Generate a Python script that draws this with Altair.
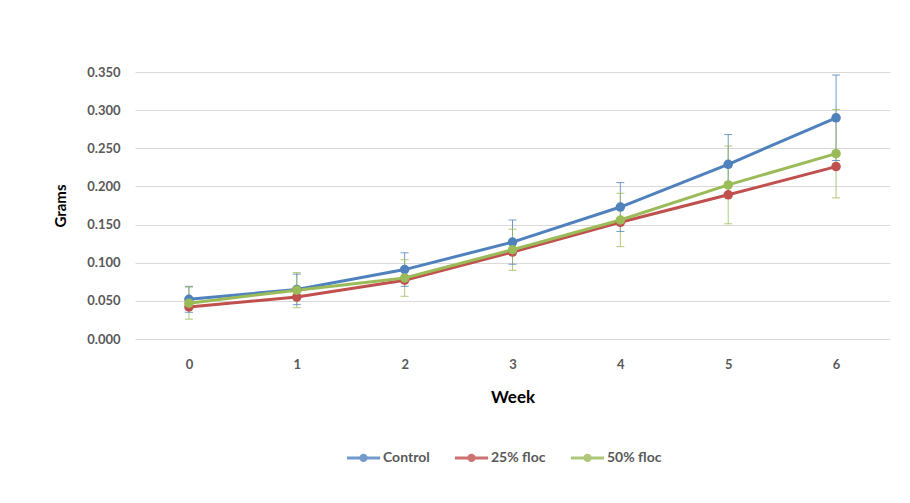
import altair as alt
import pandas as pd

weeks = [0, 1, 2, 3, 4, 5, 6]
series_names = ["Control", "25% floc", "50% floc"]
colors = ["#4F81BD", "#C0504D", "#9BBB59"]

control = [0.052, 0.065, 0.091, 0.127, 0.173, 0.229, 0.290]
control_err = [0.017, 0.020, 0.022, 0.029, 0.032, 0.039, 0.056]
floc25 = [0.042, 0.055, 0.077, 0.114, 0.153, 0.189, 0.226]
floc50 = [0.047, 0.064, 0.080, 0.117, 0.156, 0.202, 0.243]
floc50_err = [0.021, 0.023, 0.024, 0.027, 0.035, 0.051, 0.058]
y_ticks = [0, 0.05, 0.1, 0.15, 0.2, 0.25, 0.3, 0.35]

rows = []
for idx, (name, vals) in enumerate(zip(series_names, [control, floc25, floc50])):
    for w, v in zip(weeks, vals):
        rows.append({"Week": str(w), "Series": name, "Grams": v, "idx": idx})
df = pd.DataFrame(rows)

err_rows = []
for name, vals, errs in [("Control", control, control_err), ("50% floc", floc50, floc50_err)]:
    for w, v, e in zip(weeks, vals, errs):
        err_rows.append({"Week": str(w), "Series": name, "lo": v - e, "hi": v + e})
edf = pd.DataFrame(err_rows)

color_scale = alt.Scale(domain=series_names, range=colors)
x_axis = alt.Axis(labelAngle=0, domain=False, ticks=False, grid=False,
                  labelPadding=19, titlePadding=18,
                  labelFont="Lato", labelFontSize=13, labelFontWeight="bold",
                  labelColor="#595959", titleFont="Lato", titleFontSize=17,
                  titleFontWeight="bold", titleColor="#000000")
x_scale = alt.Scale(type="point", padding=0.5)
x_sort = [str(w) for w in weeks]


def xe():
    return alt.X("Week:N", sort=x_sort, title="Week", scale=x_scale, axis=x_axis)


y_scale = alt.Scale(domain=[0, 0.35], nice=False, zero=True)
y_axis = alt.Axis(format=".3f", values=y_ticks, labelOverlap=False,
                  domain=False, ticks=False, labelPadding=15, titlePadding=18,
                  gridColor="#D9D9D9", gridWidth=1,
                  labelFont="Lato", labelFontSize=13, labelFontWeight="bold",
                  labelColor="#595959", titleFont="Lato", titleFontSize=15,
                  titleFontWeight="bold", titleColor="#000000")


def ye(field):
    return alt.Y(field, scale=y_scale, axis=y_axis, title="Grams")


legend_path = ("M-1,0 L1,0 M-0.16,0 A0.16,0.16 0 1,1 0.16,0 "
               "A0.16,0.16 0 1,1 -0.16,0")
legend = alt.Legend(title=None, orient="none", direction="horizontal",
                    legendX=210, legendY=367,
                    symbolType=legend_path, symbolSize=1100,
                    symbolStrokeWidth=3, columnPadding=18,
                    labelFont="Lato", labelFontSize=14,
                    labelFontWeight="bold", labelColor="#595959",
                    labelOffset=1)


def ce():
    return alt.Color("Series:N", scale=color_scale, sort=series_names, legend=legend)


base_err = alt.Chart(edf)
err_rule = base_err.mark_rule(strokeWidth=1, opacity=0.8).encode(
    x=xe(), y=ye("lo:Q"), y2="hi:Q", color=ce(),
)
err_lo = base_err.mark_tick(size=8, thickness=1, opacity=0.8).encode(
    x=xe(), y=ye("lo:Q"), color=ce(),
)
err_hi = base_err.mark_tick(size=8, thickness=1, opacity=0.8).encode(
    x=xe(), y=ye("hi:Q"), color=ce(),
)
lines = alt.Chart(df).mark_line(strokeWidth=3).encode(
    x=xe(), y=ye("Grams:Q"), color=ce(), detail="idx:O",
)
points = alt.Chart(df).mark_circle(size=90, opacity=1).encode(
    x=xe(), y=ye("Grams:Q"), color=ce(), order=alt.Order("idx:Q"),
)

chart = alt.layer(err_rule, err_lo, err_hi, lines, points).properties(
    width=755, height=267,
    autosize=alt.AutoSizeParams(type="none"),
    padding={"left": 127, "top": 64, "right": 10, "bottom": 150},
    background="white",
).configure_view(stroke=None)

chart.save("out.html", embed_options={"renderer": "svg", "actions": False})
